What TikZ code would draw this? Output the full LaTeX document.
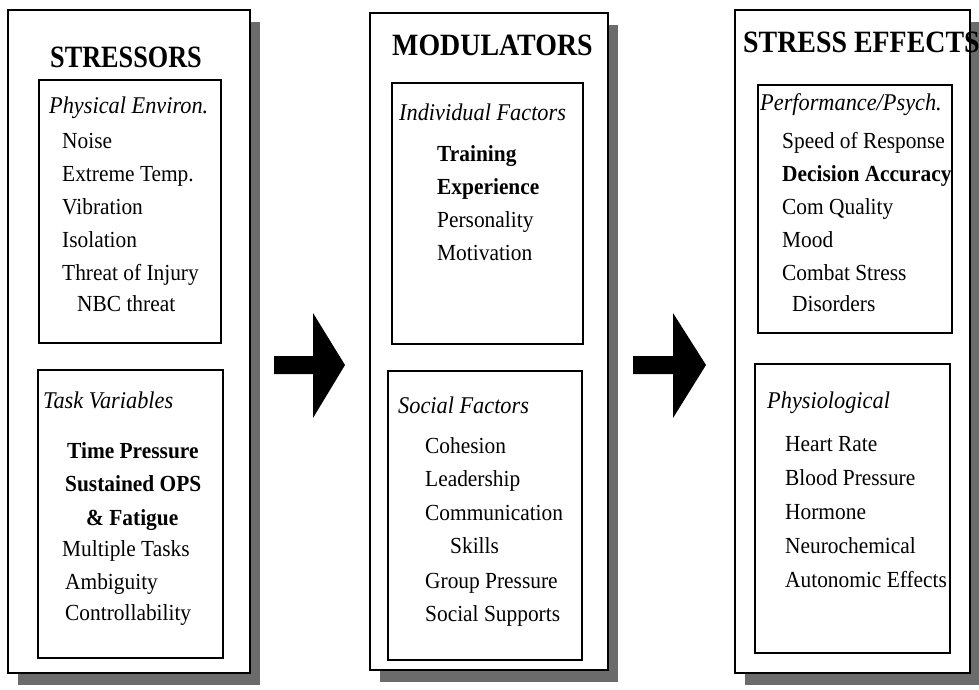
\documentclass[tikz,border=0pt]{standalone}
\usepackage{fontspec}
\setmainfont{Liberation Serif}[FakeStretch=0.93]
\newfontfamily\titlefont{Liberation Serif}[FakeStretch=0.9]
\begin{document}
\begin{tikzpicture}[x=1pt,y=-1pt,
outerbox/.style={draw,fill=white,line width=1.6pt},
shadowbox/.style={fill=black!58},
innerbox/.style={draw,line width=1.8pt},
title/.style={anchor=base west,inner sep=0pt,font=\fontsize{31}{31}\titlefont\bfseries},
header/.style={anchor=base west,inner sep=0pt,font=\fontsize{24}{24}\selectfont\itshape},
item/.style={anchor=base west,inner sep=0pt,font=\fontsize{23}{23}\selectfont},
bitem/.style={item,font=\fontsize{23}{23}\selectfont\bfseries},
bigarrow/.style={fill=black}]

\clip (0,0) rectangle (979,689);

% stressors
\fill[shadowbox] (18,22) rectangle (260,685);
\draw[outerbox] (8,10) rectangle (250,673);
\draw[innerbox] (39,80) rectangle (221,343);
\draw[innerbox] (38,370) rectangle (223,658);
\node[title] (stressors) at (50,67) {\scalebox{0.94}[1]{STRESSORS}};
\node[header] (physenv) at (49,113) {Physical Environ.};
\node[item] (noise) at (62,148) {Noise};
\node[item] (temp) at (62,181) {Extreme Temp.};
\node[item] (vibr) at (62,214) {Vibration};
\node[item] (isol) at (62,247) {Isolation};
\node[item] (injury) at (62,280) {Threat of Injury};
\node[item] (nbc) at (77,311) {NBC threat};
\node[header] (taskvar) at (43,408) {Task Variables};
\node[bitem] (timepr) at (67,458) {Time Pressure};
\node[bitem] (susops) at (65,491) {Sustained OPS};
\node[bitem] (fatigue) at (86,525) {\& Fatigue};
\node[item] (multi) at (62,556) {Multiple Tasks};
\node[item] (ambig) at (65,589) {Ambiguity};
\node[item] (control) at (65,620) {Controllability};

% modulators
\fill[shadowbox] (380,25) rectangle (618,682);
\draw[outerbox] (370,13) rectangle (608,670);
\draw[innerbox] (392,83) rectangle (583,344);
\draw[innerbox] (388,371) rectangle (582,660);
\node[title] (modulators) at (392,55) {MODULATORS};
\node[header] (indiv) at (399,120) {Individual Factors};
\node[bitem] (training) at (437,161) {Training};
\node[bitem] (exper) at (437,194) {Experience};
\node[item] (person) at (437,227) {Personality};
\node[item] (motiv) at (437,260) {Motivation};
\node[header] (social) at (398,413) {Social Factors};
\node[item] (cohes) at (425,453) {Cohesion};
\node[item] (leader) at (425,486) {Leadership};
\node[item] (commun) at (425,520) {Communication};
\node[item] (skills) at (450,553) {Skills};
\node[item] (grouppr) at (425,588) {Group Pressure};
\node[item] (support) at (425,621) {Social Supports};

% stress effects
\fill[shadowbox] (745,22) rectangle (980,685);
\draw[outerbox] (735,10) rectangle (970,673);
\draw[innerbox] (758,85) rectangle (952,333);
\draw[innerbox] (755,364) rectangle (950,653);
\node[title] (effects) at (743,52) {STRESS EFFECTS};
\node[header] (perf) at (760,110) {Performance/Psych.};
\node[item] (speed) at (782,148) {Speed of Response};
\node[bitem] (decis) at (782,181) {Decision Accuracy};
\node[item] (comq) at (782,214) {Com Quality};
\node[item] (mood) at (782,247) {Mood};
\node[item] (combat) at (782,280) {Combat Stress};
\node[item] (disord) at (792,311) {Disorders};
\node[header] (physio) at (767,408) {Physiological};
\node[item] (heart) at (785,451) {Heart Rate};
\node[item] (blood) at (785,485) {Blood Pressure};
\node[item] (hormone) at (785,519) {Hormone};
\node[item] (neuro) at (785,553) {Neurochemical};
\node[item] (auton) at (785,587) {Autonomic Effects};

% arrows
\fill[bigarrow] (274,356) -- (313,356) -- (313,313) -- (345,365) -- (313,418) -- (313,374) -- (274,374) -- cycle;
\fill[bigarrow] (633,356) -- (673,356) -- (673,313) -- (706,365) -- (673,418) -- (673,374) -- (633,374) -- cycle;

\end{tikzpicture}
\end{document}
